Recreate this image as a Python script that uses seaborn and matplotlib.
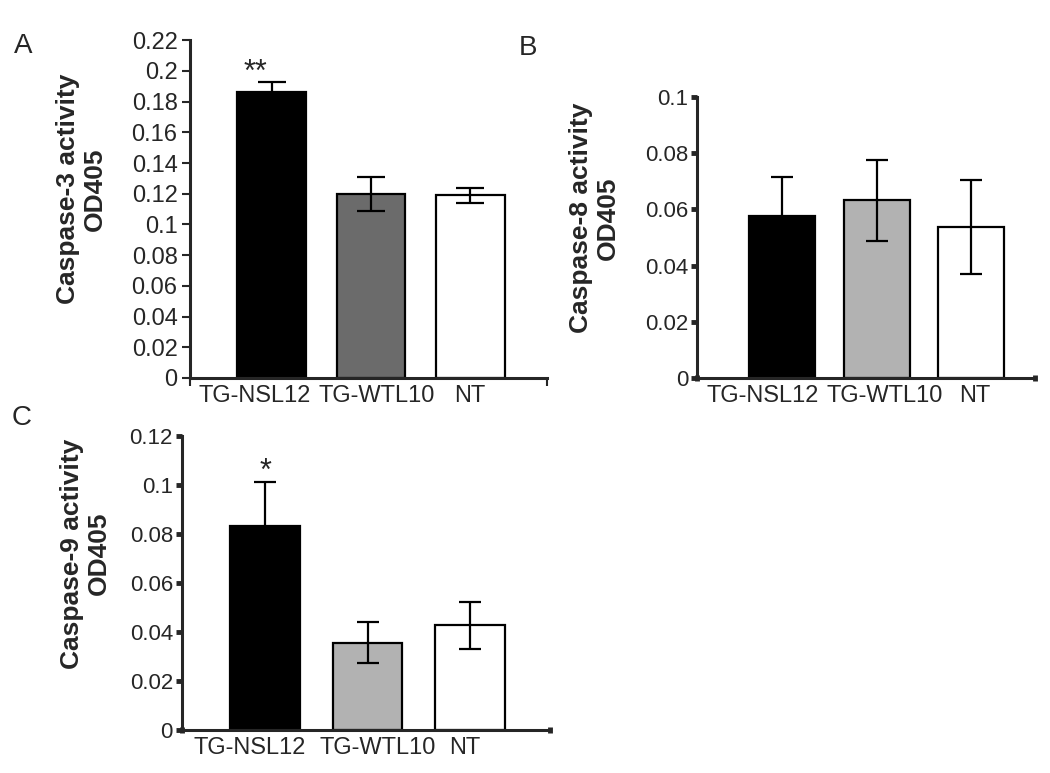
import matplotlib
matplotlib.use("Agg")
import matplotlib.transforms as mtransforms
import seaborn as sns
from matplotlib import pyplot as plt

# %%
groups = ["TG-NSL12", "TG-WTL10", "NT"]

casp3_mean = [0.186, 0.120, 0.119]
casp3_err = [0.007, 0.011, 0.005]
casp8_mean = [0.0575, 0.0632, 0.0536]
casp8_err = [0.014, 0.0145, 0.0167]
casp9_mean = [0.0832, 0.0356, 0.0427]
casp9_err = [0.018, 0.0083, 0.0097]

casp3_ticks = [0, 0.02, 0.04, 0.06, 0.08, 0.1, 0.12, 0.14, 0.16, 0.18, 0.2, 0.22]
casp3_ticklabels = ["0", "0.02", "0.04", "0.06", "0.08", "0.1", "0.12", "0.14",
                    "0.16", "0.18", "0.2", "0.22"]
casp8_ticks = [0, 0.02, 0.04, 0.06, 0.08, 0.1]
casp8_ticklabels = ["0", "0.02", "0.04", "0.06", "0.08", "0.1"]
casp9_ticks = [0, 0.02, 0.04, 0.06, 0.08, 0.1, 0.12]
casp9_ticklabels = ["0", "0.02", "0.04", "0.06", "0.08", "0.1", "0.12"]

# %%
sns.set_style("ticks")
plt.rcParams["font.family"] = ["Liberation Sans", "DejaVu Sans"]


def draw_panel(ax, means, errs, colors, ticks, ticklabels, ylabel, xlim,
               width, capsize, square_ticks, tick_fs, label_shift, star=None):
    sns.barplot(x=groups, y=means, hue=groups, palette=colors, width=width,
                edgecolor="black", linewidth=1.6, saturation=1, legend=False,
                ax=ax)
    ax.errorbar(range(len(groups)), means, yerr=errs, fmt="none",
                ecolor="black", elinewidth=1.6, capsize=capsize, capthick=1.6)

    ax.set_ylim(ticks[0], ticks[-1])
    ax.set_xlim(*xlim)
    ax.set_yticks(ticks)
    ax.set_yticklabels(ticklabels, fontsize=tick_fs)
    ax.set_xticks(range(len(groups)))
    ax.set_xticklabels(groups, fontsize=17)
    ax.tick_params(axis="x", which="major", length=0, pad=5)
    ax.set_xticks(list(xlim), minor=True)
    ax.set_xlabel("")
    ax.set_ylabel(ylabel, fontsize=19, fontweight="bold", linespacing=1.15)

    # the group names sit a little off-centre in the original
    for lab, dx in zip(ax.get_xticklabels(), label_shift):
        offset = mtransforms.ScaledTranslation(dx / 100, 0, ax.figure.dpi_scale_trans)
        lab.set_transform(lab.get_transform() + offset)

    for side in ["top", "right"]:
        ax.spines[side].set_visible(False)
    for side in ["left", "bottom"]:
        ax.spines[side].set_linewidth(2.2)

    if square_ticks:
        ax.tick_params(axis="y", length=4.5, width=3.5, pad=2)
        ax.tick_params(axis="x", which="minor", length=4, width=3.5,
                       direction="inout")
    else:
        ax.tick_params(axis="y", length=6, width=1.5, pad=3)
        ax.tick_params(axis="x", which="minor", length=6, width=1.5)

    if star is not None:
        text, dx, dy = star
        ax.text(dx, means[0] + errs[0] + dy, text, ha="center", va="center",
                fontsize=22)


fig = plt.figure(figsize=(10.5, 7.73), dpi=100)

ax_a = fig.add_axes([0.181, 0.511, 0.340, 0.437])
draw_panel(ax_a, casp3_mean, casp3_err, ["#000000", "#6b6b6b", "#ffffff"],
           casp3_ticks, casp3_ticklabels, "Caspase-3 activity\nOD405",
           (-0.82, 2.77), 0.69, 10, False, 17, [-17, 6, -1],
           star=("**", -0.16, 0.006))
ax_a.yaxis.set_label_coords(-0.232, 0.56)

ax_b = fig.add_axes([0.664, 0.511, 0.322, 0.3635])
draw_panel(ax_b, casp8_mean, casp8_err, ["#000000", "#b2b2b2", "#ffffff"],
           casp8_ticks, casp8_ticklabels, "Caspase-8 activity\nOD405",
           (-0.90, 2.68), 0.70, 8, True, 16, [-20, 8, 4])
ax_b.yaxis.set_label_coords(-0.228, 0.57)

ax_c = fig.add_axes([0.1733, 0.0556, 0.3505, 0.3803])
draw_panel(ax_c, casp9_mean, casp9_err, ["#000000", "#b2b2b2", "#ffffff"],
           casp9_ticks, casp9_ticklabels, "Caspase-9 activity\nOD405",
           (-0.81, 2.78), 0.68, 8, True, 16, [-15, 10, -5],
           star=("*", 0.0, 0.004))
ax_c.yaxis.set_label_coords(-0.193, 0.60)

fig.text(0.013, 1 - 33 / 773, "A", fontsize=20, va="top", ha="left")
fig.text(0.494, 1 - 35 / 773, "B", fontsize=20, va="top", ha="left")
fig.text(0.011, 1 - 405 / 773, "C", fontsize=20, va="top", ha="left")

plt.savefig("out.png", dpi=100)
